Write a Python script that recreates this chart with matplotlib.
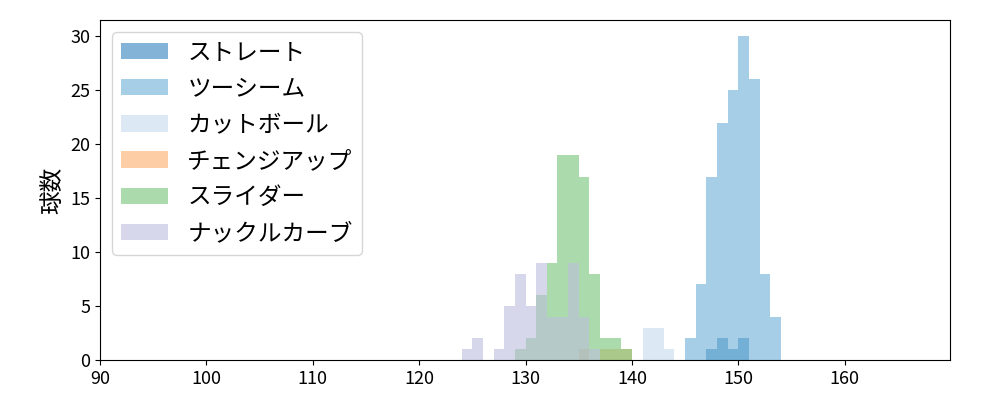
import matplotlib
matplotlib.use("Agg")
import matplotlib.pyplot as plt

plt.rcParams['font.family'] = ['Noto Sans CJK JP', 'DejaVu Sans']

# 球速ごとの投球数 (1 km/h 区切り, 左端の値)
pitch_names = ["ストレート", "ツーシーム", "カットボール", "チェンジアップ", "スライダー", "ナックルカーブ"]

straight_speed = [147, 148, 149, 150]
straight_count = [1, 2, 1, 2]

twoseam_speed = [145, 146, 147, 148, 149, 150, 151, 152, 153]
twoseam_count = [2, 7, 17, 22, 25, 30, 26, 8, 4]

cutter_speed = [141, 142, 143]
cutter_count = [3, 3, 1]

changeup_speed = [135, 137, 138, 139]
changeup_count = [1, 1, 1, 1]

slider_speed = [129, 130, 131, 132, 133, 134, 135, 136, 137, 138, 139]
slider_count = [1, 2, 6, 9, 19, 19, 17, 8, 2, 2, 1]

kcurve_speed = [124, 125, 127, 128, 129, 130, 131, 132, 133, 134, 135, 136]
kcurve_count = [1, 2, 1, 5, 8, 5, 9, 4, 4, 9, 4, 1]

colors = ["#3182bd", "#6baed6", "#c6dbef", "#fdae6b", "#74c476", "#bcbddc"]


def main():
    series = [
        (straight_speed, straight_count),
        (twoseam_speed, twoseam_count),
        (cutter_speed, cutter_count),
        (changeup_speed, changeup_count),
        (slider_speed, slider_count),
        (kcurve_speed, kcurve_count),
    ]

    fig, ax = plt.subplots(figsize=(10, 4), dpi=100)
    fig.subplots_adjust(left=0.1, right=0.95, top=0.95, bottom=0.1)

    for name, color, (speed, count) in zip(pitch_names, colors, series):
        ax.bar(speed, count, width=1, align="edge", color=color, alpha=0.6,
               label=name, linewidth=0)

    ax.set_xlim(90, 169.9)
    ax.set_ylim(0, 31.5)
    ax.set_ylabel("球数", fontsize=17)
    ax.tick_params(labelsize=13)
    ax.legend(loc="upper left", fontsize=17, labelspacing=0.56)

    fig.savefig("out.png")


if __name__ == "__main__":
    main()
